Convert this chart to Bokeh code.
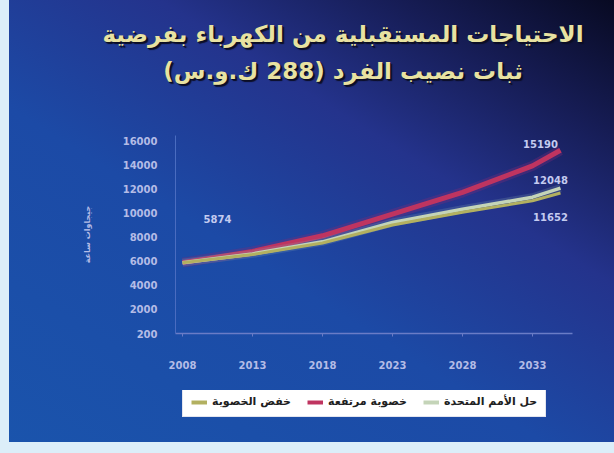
from bokeh.plotting import figure
from bokeh.layouts import column
from bokeh.models import (Legend, LegendItem, Range1d, FixedTicker,
                          ColumnDataSource, Div)
from bokeh.core.properties import value
from bokeh.embed import file_html
from bokeh.resources import INLINE

# ---- data ----
years = [2008, 2013, 2018, 2023, 2028, 2033, 2035]
high_fert = [5874, 6800, 8100, 9900, 11700, 13900, 15190]
un_variant = [5874, 6600, 7600, 9200, 10300, 11300, 12048]
low_fert = [5874, 6550, 7500, 9000, 10050, 11000, 11652]

x_ticks = [2008, 2013, 2018, 2023, 2028, 2033]
x_tick_labels = ["2008", "2013", "2018", "2023", "2028", "2033"]
y_ticks = [0, 2000, 4000, 6000, 8000, 10000, 12000, 14000, 16000]
y_tick_labels = ["200", "2000", "4000", "6000", "8000", "10000", "12000", "14000", "16000"]

series_names = ["خفض الخصوبة", "خصوبة مرتفعة", "حل الأمم المتحدة"]
title_1 = "الاحتياجات المستقبلية من الكهرباء بفرضية"
title_2 = "ثبات نصيب الفرد (288 ك.و.س)"
y_title = "جيجاوات ساعة"

RLE, PDF = "\u202B", "\u202C"
FONT = "DejaVu Sans"
W = 614
H_TITLE, H_MAIN, H_LEG = 120, 270, 63
F_LEFT, F_RIGHT = 175, 572

HIGH_C, UN_C, LOW_C = "#bf3460", "#c4d4b8", "#b2b060"

# ---------- title strip (HTML text, right-to-left) ----------
title_div = Div(
    text=(f'<div dir="rtl" style="box-sizing:border-box;width:{W}px;padding-left:72px;'
          f'padding-top:16px;text-align:center;font-family:\'{FONT}\';font-weight:bold;'
          f'font-size:23px;line-height:37px;color:#e8e2a2;white-space:nowrap;'
          f'text-shadow:2px 2px 1px #0c0e26, 1px 1px 0 #0c0e26;">'
          f'{title_1}<br>{title_2}</div>'),
    width=W, height=H_TITLE, margin=(0, 0, 0, 0),
    styles={"overflow": "hidden"},
)

# ---------- main chart ----------
F_TOP, F_BOTTOM = 135 - H_TITLE, 333 - H_TITLE
p = figure(width=W, height=H_MAIN, output_backend="svg", toolbar_location=None,
           x_range=Range1d(2007.5, 2035.86), y_range=Range1d(0, 16415),
           min_border_left=F_LEFT, min_border_right=W - F_RIGHT,
           min_border_top=F_TOP, min_border_bottom=H_MAIN - F_BOTTOM)
p.background_fill_color = None
p.border_fill_color = None
p.outline_line_color = None
p.grid.visible = False

xa = p.xaxis[0]
xa.ticker = FixedTicker(ticks=x_ticks)
xa.major_label_overrides = {t: l for t, l in zip(x_ticks, x_tick_labels)}
xa.axis_line_color = "#6a7cc6"
xa.axis_line_width = 1.5
xa.major_tick_line_color = "#6a7cc6"
xa.major_tick_out = 3
xa.major_tick_in = 0
xa.minor_tick_line_color = None
xa.major_label_standoff = 24
xa.major_label_text_color = "#b4bce6"
xa.major_label_text_font = FONT
xa.major_label_text_font_style = "bold"
xa.major_label_text_font_size = "10px"

ya = p.yaxis[0]
ya.ticker = FixedTicker(ticks=y_ticks)
ya.major_label_overrides = {t: l for t, l in zip(y_ticks, y_tick_labels)}
ya.axis_line_color = "#4a6cc0"
ya.major_tick_line_color = None
ya.minor_tick_line_color = None
ya.major_label_standoff = 12
ya.major_label_text_color = "#b4bce6"
ya.major_label_text_font = FONT
ya.major_label_text_font_style = "bold"
ya.major_label_text_font_size = "10px"
ya.axis_label = RLE + y_title + PDF
ya.axis_label_standoff = 28
ya.axis_label_text_color = "#b4bce6"
ya.axis_label_text_font = FONT
ya.axis_label_text_font_style = "bold"
ya.axis_label_text_font_size = "8px"

src = ColumnDataSource(dict(x=years, high=high_fert, un=un_variant, low=low_fert))

p.line("x", "high", source=src, line_color="#7a2a78", line_width=10, line_alpha=0.35)
p.line("x", "high", source=src, line_color=HIGH_C, line_width=5)
p.line("x", "un", source=src, line_color="#8aa8b0", line_width=8, line_alpha=0.22)
p.line("x", "un", source=src, line_color=UN_C, line_width=3.5)
p.line("x", "low", source=src, line_color=LOW_C, line_width=3)

lab_src = ColumnDataSource(dict(
    x=[years[0], years[-1], years[-1], years[-1]],
    y=[high_fert[0], high_fert[-1], un_variant[-1], low_fert[-1]],
    t=[str(high_fert[0]), str(high_fert[-1]), str(un_variant[-1]), str(low_fert[-1])],
    dx=[35, -20, -10, -10],
    dy=[-44, -6, -8, 24],
))
p.text("x", "y", text="t", source=lab_src, x_offset="dx", y_offset="dy",
       text_align="center", text_baseline="middle", text_font=value(FONT),
       text_font_style="bold", text_font_size="10px", text_color="#c4cbf0")

# ---------- legend strip ----------
pl = figure(width=W, height=H_LEG, output_backend="svg", toolbar_location=None,
            x_axis_location=None, y_axis_location=None,
            x_range=Range1d(0, 1), y_range=Range1d(0, 1),
            min_border_left=F_LEFT, min_border_right=W - F_RIGHT,
            min_border_top=0, min_border_bottom=0)
pl.background_fill_color = None
pl.border_fill_color = None
pl.outline_line_color = None
pl.grid.visible = False
lsrc = ColumnDataSource(dict(x=years, high=high_fert, un=un_variant, low=low_fert))
lr_low = pl.line("x", "low", source=lsrc, line_color=LOW_C, line_width=4, visible=False)
lr_high = pl.line("x", "high", source=lsrc, line_color=HIGH_C, line_width=4, visible=False)
lr_un = pl.line("x", "un", source=lsrc, line_color=UN_C, line_width=4, visible=False)
legend = Legend(items=[
    LegendItem(label=RLE + series_names[0] + PDF, renderers=[lr_low]),
    LegendItem(label=RLE + series_names[1] + PDF, renderers=[lr_high]),
    LegendItem(label=RLE + series_names[2] + PDF, renderers=[lr_un]),
], orientation="horizontal", location=(182 - F_LEFT, 36))
legend.inactive_fill_alpha = 0
legend.background_fill_color = "white"
legend.background_fill_alpha = 1
legend.border_line_color = "#c8cce0"
legend.label_text_font = FONT
legend.label_text_font_style = "bold"
legend.label_text_font_size = "11px"
legend.label_text_color = "#202020"
legend.glyph_width = 16
legend.glyph_height = 12
legend.spacing = 16
legend.padding = 8
legend.margin = 0
legend.label_standoff = 5
pl.add_layout(legend, "center")

layout = column(title_div, p, pl, spacing=0)
layout.styles = {
    "background": (
        "linear-gradient(to right, #dcEEF9 0px, #dcEEF9 9px, transparent 9px),"
        "linear-gradient(to top, #dcEEF9 0px, #dcEEF9 11px, transparent 11px),"
        "linear-gradient(32deg, #1a54ac 0%, #1c4aa6 42%, #24338c 66%, #161c54 84%, #080a22 100%)"
    )
}

open("out.html", "w").write(file_html(layout, INLINE))
